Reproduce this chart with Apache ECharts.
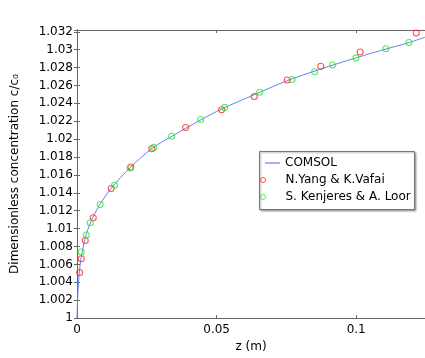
<!DOCTYPE html>
<html>
<head>
<meta charset="utf-8">
<script src="https://cdn.jsdelivr.net/npm/echarts@6/dist/echarts.min.js"></script>
<style>
html,body{margin:0;padding:0;background:#fff;}
#c{width:425px;height:358px;}
</style>
</head>
<body>
<div id="c"></div>
<script>
// COMSOL curve (z in m, c/c0)
const comsolZ = [0, 0.0002, 0.0005, 0.0008, 0.0015, 0.003, 0.005, 0.008, 0.0125, 0.019, 0.027, 0.035, 0.044, 0.052, 0.063, 0.075, 0.087, 0.1, 0.111, 0.119, 0.1246];
const comsolC = [1.0000, 1.0020, 1.0038, 1.0050, 1.0068, 1.0090, 1.0108, 1.0126, 1.0146, 1.0168, 1.0190, 1.0205, 1.0221, 1.0234, 1.0249, 1.0265, 1.0278, 1.0291, 1.0301, 1.0308, 1.0314];
// N.Yang & K.Vafai
const yangZ = [0.00096, 0.00154, 0.00296, 0.00582, 0.01225, 0.01929, 0.0268, 0.0389, 0.0518, 0.0635, 0.0753, 0.0873, 0.1014, 0.1215];
const yangC = [1.00510, 1.00663, 1.00867, 1.01121, 1.01448, 1.01688, 1.01892, 1.02131, 1.02328, 1.02477, 1.02662, 1.02815, 1.02974, 1.03186];
// S. Kenjeres & A. Loor
const kenZ = [0.00154, 0.00332, 0.00475, 0.00832, 0.01346, 0.0190, 0.0275, 0.0339, 0.0443, 0.0529, 0.0654, 0.0770, 0.0851, 0.0915, 0.0999, 0.1106, 0.1189];
const kenC = [1.00739, 1.00929, 1.01066, 1.01270, 1.01485, 1.01677, 1.01908, 1.02033, 1.02219, 1.02355, 1.02524, 1.02666, 1.02753, 1.02829, 1.02909, 1.03011, 1.03080];
const seriesNames = ['COMSOL', 'N.Yang & K.Vafai', 'S. Kenjeres & A. Loor'];
const xAxisName = 'z (m)';
const yAxisName = 'Dimensionless concentration c/c\u2080';

const zip = (a, b) => a.map((v, i) => [v, b[i]]);
const font = 'DejaVu Sans';
const axisCol = '#666';
const lineCol = '#6482f0';
const redCol = '#ff2a2a';
const greenCol = '#2ee82e';

const chart = echarts.init(document.getElementById('c'), null, {renderer: 'canvas'});
chart.setOption({
  animation: false,
  backgroundColor: '#fff',
  grid: {left: 77, top: 30, right: -1, bottom: 32, containLabel: false},
  xAxis: [{
    type: 'value', min: 0, max: 0.12464, interval: 0.05,
    name: xAxisName, nameLocation: 'middle', nameGap: 20,
    nameTextStyle: {fontFamily: font, fontSize: 12, color: '#000'},
    axisLine: {show: true, lineStyle: {color: axisCol}},
    axisTick: {show: true, inside: true, length: 3, lineStyle: {color: axisCol}},
    axisLabel: {fontFamily: font, fontSize: 12, color: '#000', margin: 6, showMaxLabel: false},
    splitLine: {show: false}
  }, {
    type: 'value', position: 'top', min: 0, max: 0.12464, interval: 0.05,
    axisLine: {show: true, lineStyle: {color: axisCol}},
    axisTick: {show: true, inside: true, length: 3, lineStyle: {color: axisCol}},
    axisLabel: {show: false}, splitLine: {show: false}
  }],
  yAxis: [{
    type: 'value', min: 1, max: 1.0322, interval: 0.002,
    name: yAxisName, nameLocation: 'middle', nameGap: 56,
    nameTextStyle: {fontFamily: font, fontSize: 12, color: '#000'},
    axisLine: {show: true, lineStyle: {color: axisCol}},
    axisTick: {show: true, inside: true, length: 3, lineStyle: {color: axisCol}},
    axisLabel: {fontFamily: font, fontSize: 12, color: '#000', margin: 4, showMaxLabel: false},
    splitLine: {show: false}
  }, {
    type: 'value', position: 'right', min: 1, max: 1.0322, interval: 0.002,
    axisLine: {show: true, lineStyle: {color: axisCol}},
    axisTick: {show: true, inside: true, length: 3, lineStyle: {color: axisCol}},
    axisLabel: {show: false}, splitLine: {show: false}
  }],
  legend: [{
    data: [{name: seriesNames[0], icon: 'rect'}],
    left: 265, top: 156, orient: 'vertical', padding: 0,
    itemWidth: 15, itemHeight: 1.2, itemGap: 3,
    textStyle: {fontFamily: font, fontSize: 12, color: '#000', lineHeight: 14}
  }, {
    data: [{name: seriesNames[1], icon: 'circle'}, {name: seriesNames[2], icon: 'circle'}],
    left: 260, top: 173, orient: 'vertical', padding: 0,
    itemWidth: 5, itemHeight: 5, itemGap: 3,
    itemStyle: {borderWidth: 1},
    textStyle: {fontFamily: font, fontSize: 12, color: '#000', lineHeight: 14, padding: [0, 0, 0, 15]}
  }],
  graphic: [{
    type: 'rect', z: 3,
    shape: {x: 259.5, y: 151.5, width: 155, height: 58},
    style: {fill: '#fff', stroke: '#777', lineWidth: 1, shadowBlur: 2, shadowColor: 'rgba(0,0,0,0.35)', shadowOffsetX: 1, shadowOffsetY: 1}
  }],
  series: [{
    name: seriesNames[0], type: 'line', data: zip(comsolZ, comsolC),
    showSymbol: false, symbol: 'none', smooth: 0.3, z: 2,
    lineStyle: {color: lineCol, width: 1},
    itemStyle: {color: lineCol}
  }, {
    name: seriesNames[1], type: 'scatter', data: zip(yangZ, yangC),
    symbol: 'circle', symbolSize: 6, z: 3,
    itemStyle: {color: 'rgba(0,0,0,0)', borderColor: redCol, borderWidth: 1.1}
  }, {
    name: seriesNames[2], type: 'scatter', data: zip(kenZ, kenC),
    symbol: 'circle', symbolSize: 6, z: 3,
    itemStyle: {color: 'rgba(0,0,0,0)', borderColor: greenCol, borderWidth: 1.1}
  }]
});
</script>
</body>
</html>
